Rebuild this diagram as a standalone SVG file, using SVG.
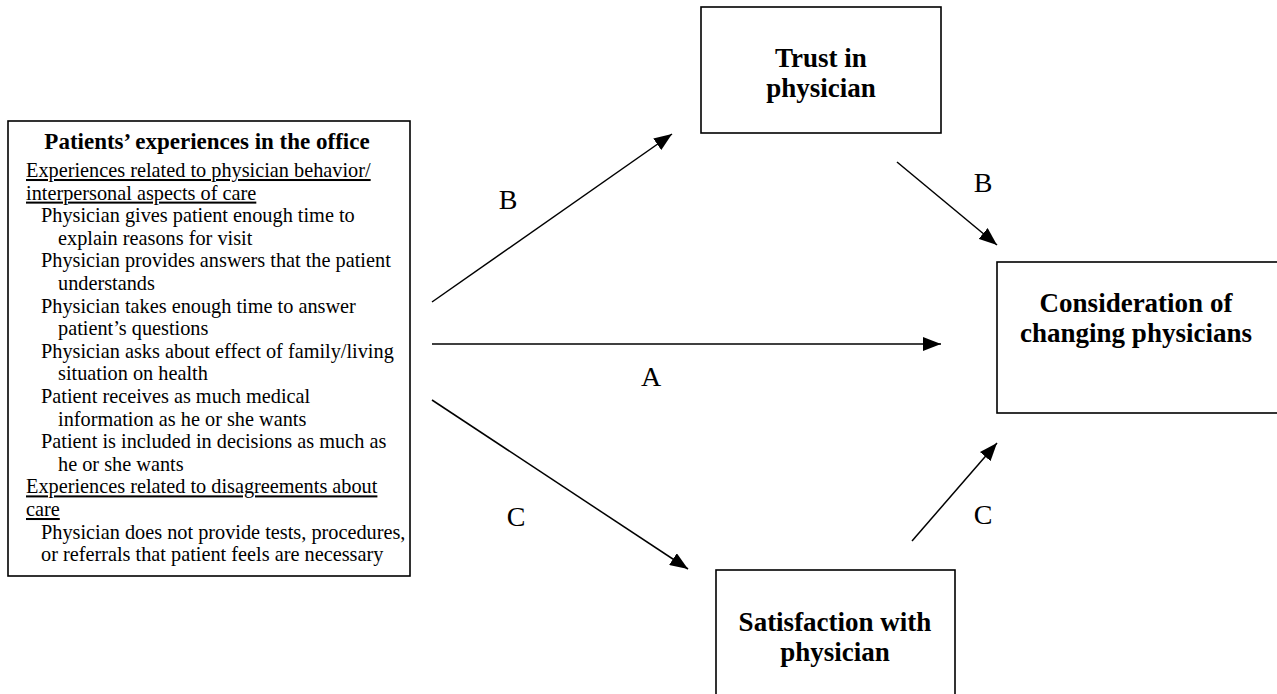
<svg xmlns="http://www.w3.org/2000/svg" width="1277" height="694" viewBox="0 0 1277 694">
<defs>
<marker id="ah" viewBox="0 0 18 14" refX="18" refY="7" markerWidth="18" markerHeight="14" markerUnits="userSpaceOnUse" orient="auto">
<path d="M0,0 L18,7 L0,14 Z" fill="#000"/>
</marker>
<style>
.box{fill:#fff;stroke:#000;stroke-width:1.6}
.body{font-family:"Liberation Serif","Times New Roman",serif;font-size:20.3px;fill:#000}
.u{text-decoration:underline}
.title{font-family:"Liberation Serif","Times New Roman",serif;font-size:23px;font-weight:bold;fill:#000}
.node{font-family:"Liberation Serif","Times New Roman",serif;font-size:27px;font-weight:bold;fill:#000;text-anchor:middle}
.lbl{font-family:"Liberation Serif","Times New Roman",serif;font-size:28px;fill:#000;text-anchor:middle}
.edge{stroke:#000;stroke-width:1.5;fill:none;marker-end:url(#ah)}
</style>
</defs>
<rect width="1277" height="694" fill="#fff"/>
<g id="experiences">
<rect class="box" x="8" y="121" width="402" height="455"/>
<text class="title" x="207" y="149" text-anchor="middle">Patients’ experiences in the office</text>
<text class="body u" x="26" y="177">Experiences related to physician behavior/</text>
<text class="body u" x="26" y="199.6">interpersonal aspects of care</text>
<text class="body" x="41" y="222.2">Physician gives patient enough time to</text>
<text class="body" x="58" y="244.8">explain reasons for visit</text>
<text class="body" x="41" y="267.4">Physician provides answers that the patient</text>
<text class="body" x="58" y="290">understands</text>
<text class="body" x="41" y="312.6">Physician takes enough time to answer</text>
<text class="body" x="58" y="335.2">patient’s questions</text>
<text class="body" x="41" y="357.8">Physician asks about effect of family/living</text>
<text class="body" x="58" y="380.4">situation on health</text>
<text class="body" x="41" y="403">Patient receives as much medical</text>
<text class="body" x="58" y="425.6">information as he or she wants</text>
<text class="body" x="41" y="448.2">Patient is included in decisions as much as</text>
<text class="body" x="58" y="470.8">he or she wants</text>
<text class="body u" x="26" y="493.4">Experiences related to disagreements about</text>
<text class="body u" x="26" y="516">care</text>
<text class="body" x="41" y="538.6">Physician does not provide tests, procedures,</text>
<text class="body" x="41" y="561.2">or referrals that patient feels are necessary</text>
</g>
<g id="trust">
<rect class="box" x="701" y="7" width="240" height="126"/>
<text class="node" x="821" y="67">Trust in</text>
<text class="node" x="821" y="97">physician</text>
</g>
<g id="satisfaction">
<rect class="box" x="716" y="570" width="239" height="130"/>
<text class="node" x="835" y="631">Satisfaction with</text>
<text class="node" x="835" y="661">physician</text>
</g>
<g id="consideration">
<rect class="box" x="997" y="262" width="285" height="151"/>
<text class="node" x="1136" y="312">Consideration of</text>
<text class="node" x="1136" y="342">changing physicians</text>
</g>
<g id="connectors">
<line class="edge" x1="432" y1="302" x2="672" y2="134"/>
<line class="edge" x1="432" y1="344" x2="941" y2="344"/>
<line class="edge" x1="432" y1="400" x2="688" y2="569"/>
<line class="edge" x1="897" y1="162" x2="997" y2="245"/>
<line class="edge" x1="912" y1="541" x2="997" y2="443"/>
<text class="lbl" x="508" y="209">B</text>
<text class="lbl" x="651" y="386">A</text>
<text class="lbl" x="516" y="526">C</text>
<text class="lbl" x="983" y="192">B</text>
<text class="lbl" x="983" y="524">C</text>
</g>
</svg>
